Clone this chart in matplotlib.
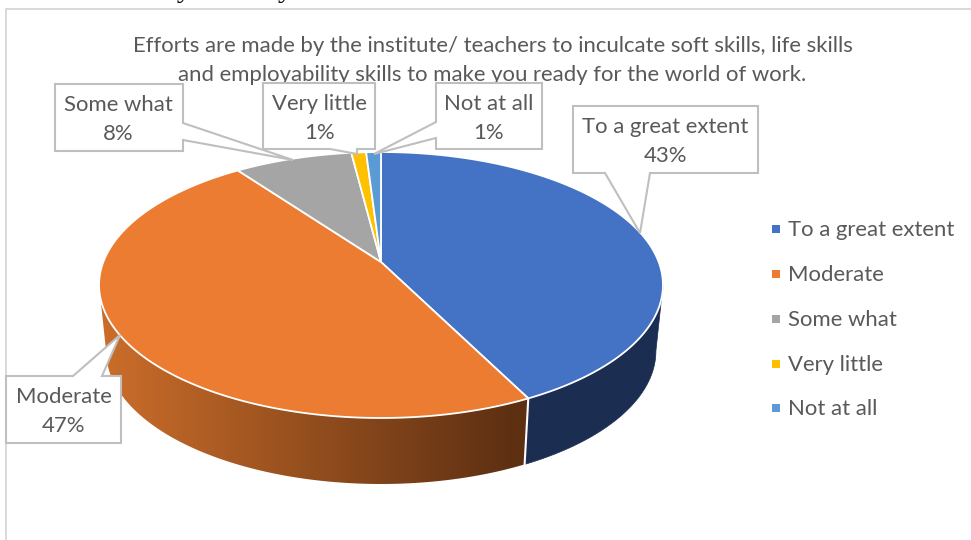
import numpy as np
from matplotlib import pyplot as plt
from matplotlib.patches import Polygon

categories = ['To a great extent', 'Moderate', 'Some what', 'Very little', 'Not at all']
values = [42.6, 47.4, 8.0, 1.0, 1.0]
percent_labels = ['43%', '47%', '8%', '1%', '1%']
colors = ['#4472C4', '#EB7C31', '#A5A5A5', '#FFC000', '#5B9BD5']

title_lines = ['Efforts are made by the institute/ teachers to inculcate soft skills, life skills',
               'and employability skills to make you ready for the world of work.']
cut_text = 'skills to make you ready for the world of work.'

plt.rcParams['font.family'] = ['Lato', 'DejaVu Sans']
TEXT = '#595959'
LINE = '#BFBFBF'
SIZE = 15.9

# pie geometry in pixels, k is the perspective tilt
HUB_X, HUB_Y = 381, 262
A, B, K = 277.7, 129, 0.173
DEPTH = 66
BOTTOM_SCALE = 0.975


def rim(t):
    # t is degrees clockwise from the top of the pie
    t = np.radians(t)
    u, v = np.sin(t), np.cos(t)
    w = 1 + K * v
    return HUB_X + A * u / w, HUB_Y - B * v / w


def low_rim(t):
    x, y = rim(t)
    return HUB_X + (x - HUB_X) * BOTTOM_SCALE, y + DEPTH


fig = plt.figure(figsize=(9.71, 5.40), dpi=100)
ax = fig.add_axes([0, 0, 1, 1])

# chart frame, and the line of document text cut off above it
ax.plot([5.5, 5.5, 971], [540, 9, 9], color='#D9D9D9', lw=1.4, zorder=1)
ax.text(8, -3, cut_text, family='Liberation Serif', fontsize=21, color='black',
        ha='left', va='baseline')

edges = np.cumsum([0] + values) * 3.6
side_start = np.degrees(np.arccos(-K))
side_end = 360 - side_start

# side wall: blue is flat, orange is shaded from dark to light going left
ts = np.linspace(side_start, edges[1], 100)
x1, y1 = rim(ts)
x2, y2 = low_rim(ts)
ax.fill(np.r_[x1, x2[::-1]], np.r_[y1, y2[::-1]], color='#1B2D50', lw=0.5, zorder=2)

ts = np.linspace(edges[1], side_end, 200)
x1, y1 = rim(ts)
x2, y2 = low_rim(ts)
wall = Polygon(np.c_[np.r_[x1, x2[::-1]], np.r_[y1, y2[::-1]]], closed=True, transform=ax.transData,
               facecolor='none', edgecolor='none')
ax.add_patch(wall)
c0 = np.array([0xC9, 0x6C, 0x2A]) / 255
c1 = np.array([0x5E, 0x30, 0x12]) / 255
f = np.clip((np.arange(90, 540) - 110) / 400, 0, 1)[None, :, None]
shade = ax.imshow(c0 + (c1 - c0) * f, extent=(90, 540, 500, 280), aspect='auto',
                  interpolation='bilinear', zorder=2)
shade.set_clip_path(wall)

# white seam between blue and orange walls
x1, y1 = rim(edges[1])
x2, y2 = low_rim(edges[1])
ax.plot([x1, x2], [y1, y2], color='white', lw=1.5, zorder=3)

# top face
for i in range(len(values)):
    ts = np.linspace(edges[i], edges[i + 1], 200)
    x, y = rim(ts)
    ax.fill(np.r_[HUB_X, x], np.r_[HUB_Y, y], facecolor=colors[i], edgecolor='white', lw=1.3, zorder=4)

ax.text(492.5, 46, title_lines[0], fontsize=SIZE, color=TEXT, ha='center', va='center', zorder=5)
ax.text(492.5, 75, title_lines[1], fontsize=SIZE, color=TEXT, ha='center', va='center', zorder=5)

# callout outlines, box then pointer
callouts = [
    [(573, 106), (758, 106), (758, 173), (650, 173), (640, 233), (605, 173), (573, 173)],
    [(6, 376), (73, 376), (120, 335), (102, 376), (121, 376), (121, 443), (6, 443)],
    [(55, 84), (183, 84), (183, 123), (293, 160), (183, 140), (183, 151), (55, 151)],
    [(263, 83), (375, 83), (375, 149), (357, 149), (357, 154), (330, 149), (263, 149)],
    [(436, 83), (542, 83), (542, 149), (436, 149), (436, 138), (374, 154), (436, 122)],
]
label_pos = [(665.5, 127, 156), (63.5, 397, 426), (118.5, 105, 134), (319.5, 104, 133), (489, 104, 133)]

for i, pts in enumerate(callouts):
    xs, ys = zip(*pts)
    ax.fill(xs, ys, facecolor='white', edgecolor=LINE, lw=1.5, zorder=6)
    lx, ly1, ly2 = label_pos[i]
    ax.text(lx, ly1, categories[i], fontsize=SIZE, color=TEXT, ha='center', va='center', zorder=7)
    ax.text(lx, ly2, percent_labels[i], fontsize=SIZE, color=TEXT, ha='center', va='center', zorder=7)

# legend
legend_y = [229, 274, 319, 364, 408]
for name, c, y in zip(categories, colors, legend_y):
    ax.plot([775.5], [y], marker='s', ms=5.2, color=c, mew=0, zorder=5)
    ax.text(788, y + 1, name, fontsize=SIZE, color=TEXT, ha='left', va='center', zorder=5)

ax.set_xlim(0, 971)
ax.set_ylim(540, 0)
ax.axis('off')

fig.savefig('out.png', dpi=100)
